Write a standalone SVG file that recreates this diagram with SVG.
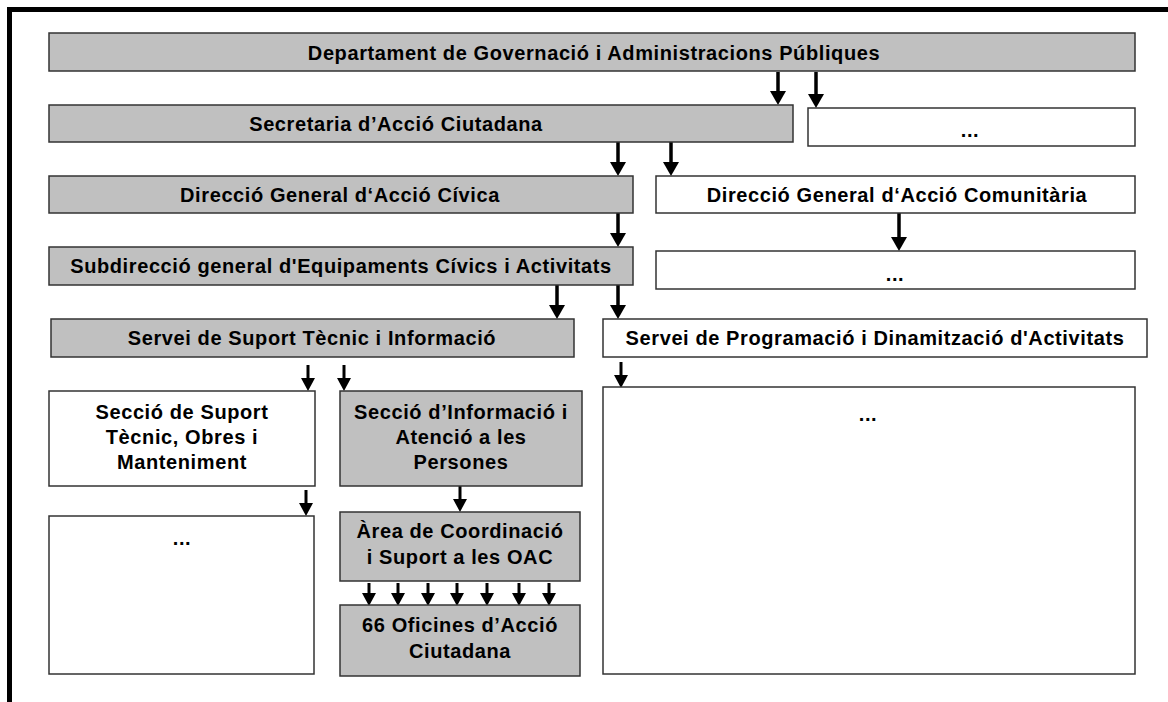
<svg xmlns="http://www.w3.org/2000/svg" width="1168" height="702" viewBox="0 0 1168 702">
<defs>
<style>
.g{fill:#c0c0c0;stroke:#333;stroke-width:1.5}
.w{fill:#fff;stroke:#333;stroke-width:1.5}
text{font-family:"Liberation Sans",Arial,sans-serif;font-weight:bold;font-size:20px;letter-spacing:0.6px;fill:#000;text-anchor:middle}
.a{stroke:#000;stroke-width:3.5;fill:none}
.b{stroke:#000;stroke-width:3;fill:none}
</style>
</defs>
<rect width="1168" height="702" fill="#fff"/>
<path d="M9.5,702 L9.5,9.5 L1168,9.5" fill="none" stroke="#000" stroke-width="5"/>

<g id="connectors">
<path class="a" d="M778,72 V93"/><polygon points="770,91 786,91 778,105"/>
<path class="a" d="M816,72 V96"/><polygon points="808,94 824,94 816,108"/>
<path class="a" d="M618,142 V164"/><polygon points="610,162 626,162 618,176"/>
<path class="a" d="M671,142 V164"/><polygon points="663,162 679,162 671,176"/>
<path class="a" d="M618,213 V235"/><polygon points="610,233 626,233 618,247"/>
<path class="a" d="M899,213 V239"/><polygon points="891,237 907,237 899,251"/>
<path class="a" d="M557,285 V307"/><polygon points="549,305 565,305 557,319"/>
<path class="a" d="M618,285 V307"/><polygon points="610,305 626,305 618,319"/>
<path class="b" d="M621,362 V377"/><polygon points="614,375 628,375 621,388"/>
<path class="b" d="M308,365 V380"/><polygon points="301,378 315,378 308,391"/>
<path class="b" d="M344,365 V380"/><polygon points="337,378 351,378 344,391"/>
<path class="b" d="M306,490 V505"/><polygon points="299,503 313,503 306,516"/>
<path class="b" d="M460,486 V501"/><polygon points="453,499 467,499 460,512"/>
<path class="b" d="M369,583 V595"/><polygon points="362,593 376,593 369,606"/>
<path class="b" d="M398,583 V595"/><polygon points="391,593 405,593 398,606"/>
<path class="b" d="M428,583 V595"/><polygon points="421,593 435,593 428,606"/>
<path class="b" d="M457,583 V595"/><polygon points="450,593 464,593 457,606"/>
<path class="b" d="M487,583 V595"/><polygon points="480,593 494,593 487,606"/>
<path class="b" d="M519,583 V595"/><polygon points="512,593 526,593 519,606"/>
<path class="b" d="M549,583 V595"/><polygon points="542,593 556,593 549,606"/>
</g>

<g id="n1"><rect class="g" x="49" y="33" width="1086" height="38"/><text x="594" y="60">Departament de Governació i Administracions Públiques</text></g>
<g id="n2"><rect class="g" x="49" y="105" width="744" height="37"/><text x="396" y="131">Secretaria d’Acció Ciutadana</text></g>
<g id="n3"><rect class="w" x="808" y="108" width="327" height="38"/><text x="970" y="137">...</text></g>
<g id="n4"><rect class="g" x="49" y="176" width="584" height="37"/><text x="340" y="202">Direcció General d‘Acció Cívica</text></g>
<g id="n5"><rect class="w" x="656" y="176" width="479" height="37"/><text x="897" y="202">Direcció General d‘Acció Comunitària</text></g>
<g id="n6"><rect class="g" x="49" y="247" width="584" height="38"/><text x="341" y="273">Subdirecció general d'Equipaments Cívics i Activitats</text></g>
<g id="n7"><rect class="w" x="656" y="251" width="479" height="38"/><text x="895" y="281">...</text></g>
<g id="n8"><rect class="g" x="51" y="319" width="523" height="38"/><text x="312" y="345">Servei de Suport Tècnic i Informació</text></g>
<g id="n9"><rect class="w" x="603" y="319" width="544" height="38"/><text x="875" y="345">Servei de Programació i Dinamització d'Activitats</text></g>
<g id="n10"><rect class="w" x="49" y="391" width="266" height="95"/><text x="182" y="419">Secció de Suport</text><text x="182" y="444">Tècnic, Obres i</text><text x="182" y="469">Manteniment</text></g>
<g id="n11"><rect class="g" x="340" y="391" width="242" height="95"/><text x="461" y="419">Secció d’Informació i</text><text x="461" y="444">Atenció a les</text><text x="461" y="469">Persones</text></g>
<g id="n12"><rect class="w" x="603" y="387" width="532" height="287"/><text x="868" y="421">...</text></g>
<g id="n13"><rect class="w" x="49" y="516" width="265" height="158"/><text x="182" y="545">...</text></g>
<g id="n14"><rect class="g" x="340" y="512" width="240" height="69"/><text x="460" y="538">Àrea de Coordinació</text><text x="460" y="564">i Suport a les OAC</text></g>
<g id="n15"><rect class="g" x="340" y="605" width="240" height="71"/><text x="460" y="632">66 Oficines d’Acció</text><text x="460" y="658">Ciutadana</text></g>
</svg>
